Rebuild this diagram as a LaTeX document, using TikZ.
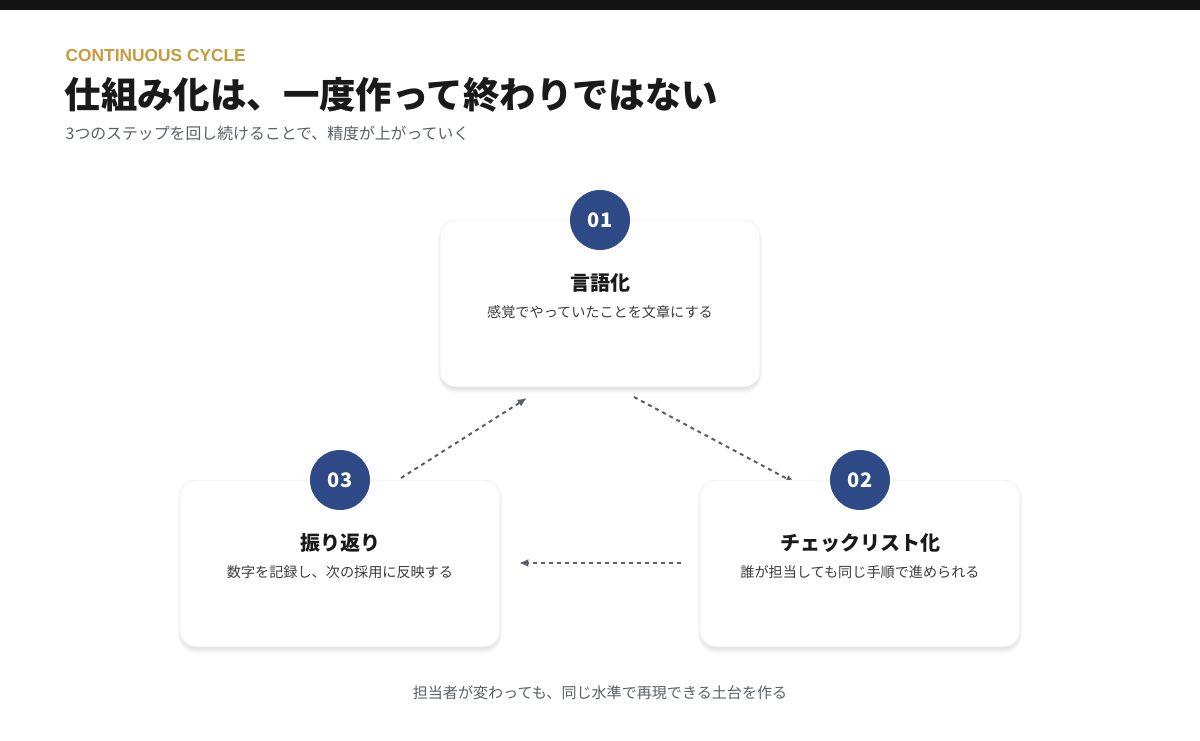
\documentclass[tikz,border=0pt]{standalone}
\usepackage{fontspec}
\setmainfont{Noto Sans CJK JP}
\newfontfamily\kickerfont{Liberation Sans}
\usetikzlibrary{positioning,arrows.meta,shadows.blur}
\definecolor{navy}{HTML}{2E4A86}
\definecolor{gold}{HTML}{C99A3B}
\definecolor{ink}{HTML}{1A1A1A}
\definecolor{muted}{HTML}{5A5F66}
\tikzset{
  card/.style={draw=black!8,fill=white,rounded corners=12pt,minimum width=240pt,minimum height=125pt,blur shadow={shadow blur steps=8,shadow xshift=0pt,shadow yshift=-3pt,shadow opacity=12}},
  badge/.style={circle,fill=navy,minimum size=45pt,inner sep=0pt,text=white,font=\fontsize{15}{15}\selectfont\bfseries},
  stepname/.style={font=\fontsize{15}{15}\selectfont\bfseries,text=ink},
  desc/.style={font=\fontsize{10.6}{11}\selectfont,text=ink!85},
  flow/.style={draw=muted,line width=1.5pt,dash pattern=on 3pt off 3pt,-{Latex[length=7pt,width=6pt]}}
}
\begin{document}
\begin{tikzpicture}[x=0.75pt,y=-0.75pt]
\useasboundingbox (0,0) rectangle (1200,740);
\fill[black!92] (0,0) rectangle (1200,10);
%header
\node[anchor=west,text=gold,font=\kickerfont\fontsize{13}{13}\selectfont\bfseries] (kicker) at (61,56) {CONTINUOUS CYCLE};
\node[anchor=west,text=ink,font=\fontsize{27.3}{28}\selectfont\bfseries] (title) at (60,95) {仕組み化は、一度作って終わりではない};
\node[anchor=west,text=muted,font=\fontsize{11.9}{12}\selectfont] (sub) at (61,133) {3つのステップを回し続けることで、精度が上がっていく};
%arrows (under the cards)
\coordinate (a3s) at (401,478);
\coordinate (a3e) at (527,398);
\coordinate (a1s) at (634,397);
\coordinate (a1e) at (795,483);
\coordinate (a2s) at (681,563);
\coordinate (a2e) at (519,563);
\draw[flow] (a3s) -- (a3e);
\draw[flow] (a1s) -- (a1e);
\draw[flow] (a2s) -- (a2e);
%cards
\node[card] (c1) at (600,303.5) {};
\node[card] (c3) at (340,563.5) {};
\node[card] (c2) at (860,563.5) {};
\node[badge] (b1) at (600,220) {01};
\node[badge] (b3) at (340,480) {03};
\node[badge] (b2) at (860,480) {02};
\node[stepname] (t1) at (600,283) {言語化};
\node[desc] (d1) at (600,312) {感覚でやっていたことを文章にする};
\node[stepname] (t3) at (340,543) {振り返り};
\node[desc] (d3) at (340,572) {数字を記録し、次の採用に反映する};
\node[stepname] (t2) at (860,543) {チェックリスト化};
\node[desc] (d2) at (860,572) {誰が担当しても同じ手順で進められる};
%footer
\node[text=muted,font=\fontsize{11.3}{12}\selectfont] (foot) at (600,693) {担当者が変わっても、同じ水準で再現できる土台を作る};
\end{tikzpicture}
\end{document}
